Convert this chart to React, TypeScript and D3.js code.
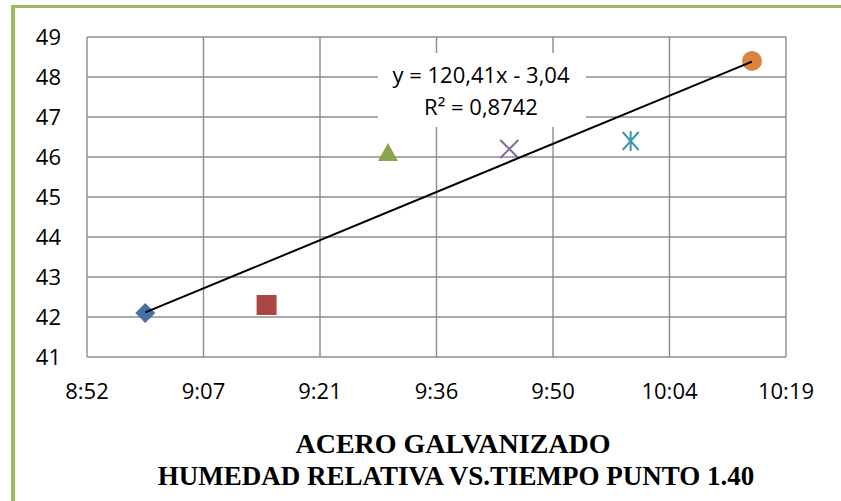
import React from 'react';
import * as d3 from 'd3';

// measurement times (hh:mm) and relative humidity (%)
const times = ['9:00', '9:15', '9:30', '9:45', '10:00', '10:15'];
const humidity = [42.1, 42.3, 46.1, 46.2, 46.4, 48.4];
const markerShapes = ['diamond', 'square', 'triangle', 'cross', 'asterisk', 'circle'];
const markerColors = ['#4572A7', '#AA4643', '#89A54E', '#80699B', '#3D96AE', '#DB843D'];

// x axis is expressed as fraction of a day (Excel time)
const xTickValues = [0.37, 0.38, 0.39, 0.4, 0.41, 0.42, 0.43];
const xTickLabels = ['8:52', '9:07', '9:21', '9:36', '9:50', '10:04', '10:19'];
const yTickValues = [41, 42, 43, 44, 45, 46, 47, 48, 49];

const trendLabel = ['y = 120,41x - 3,04', 'R² = 0,8742'];
const titleLines = ['ACERO GALVANIZADO', 'HUMEDAD RELATIVA VS.TIEMPO PUNTO 1.40'];

const W = 841;
const H = 501;
const plot = { left: 87, right: 786, top: 37, bottom: 357 };
const font = '"Open Sans", "Noto Sans", sans-serif';
const serif = '"Liberation Serif", "Times New Roman", serif';
const gridColor = '#8c8c8c';

const toDay = (t: string) => {
  const [h, m] = t.split(':').map(Number);
  return (h * 60 + m) / 1440;
};

const Marker: React.FC<{ shape: string; x: number; y: number; color: string }> = ({ shape, x, y, color }) => {
  const s = 10;
  switch (shape) {
    case 'diamond':
      return <path d={`M${x},${y - s} L${x + s},${y} L${x},${y + s} L${x - s},${y} Z`} fill={color} />;
    case 'square':
      return <rect x={x - s} y={y - s} width={2 * s} height={2 * s} fill={color} />;
    case 'triangle':
      return <path d={`M${x},${y - s} L${x + s},${y + s * 0.8} L${x - s},${y + s * 0.8} Z`} fill={color} />;
    case 'cross':
      return (
        <path
          d={`M${x - 9},${y - 9} L${x + 9},${y + 9} M${x - 9},${y + 9} L${x + 9},${y - 9}`}
          stroke={color}
          strokeWidth={2}
        />
      );
    case 'asterisk':
      return (
        <path
          d={`M${x - 8},${y - 9} L${x + 8},${y + 9} M${x - 8},${y + 9} L${x + 8},${y - 9} M${x},${y - 10} L${x},${y + 10}`}
          stroke={color}
          strokeWidth={2}
        />
      );
    default:
      return <circle cx={x} cy={y} r={s} fill={color} />;
  }
};

export default function App() {
  const xs = times.map(toDay);

  const xScale = d3.scaleLinear().domain([0.37, 0.43]).range([plot.left, plot.right]);
  const yScale = d3.scaleLinear().domain([41, 49]).range([plot.bottom, plot.top]);

  // least squares trend line
  const mx = d3.mean(xs) ?? 0;
  const my = d3.mean(humidity) ?? 0;
  const slope =
    d3.sum(xs, (x, i) => (x - mx) * (humidity[i] - my)) / d3.sum(xs, (x) => (x - mx) * (x - mx));
  const intercept = my - slope * mx;
  const x0 = xs[0];
  const x1 = xs[xs.length - 1];
  const trendPath = d3.line<number>()
    .x((x) => xScale(x))
    .y((x) => yScale(slope * x + intercept))([x0, x1]) ?? '';

  // label box for the equation
  const labelBox = { x: 378, y: 53, w: 208, h: 74 };
  const labelCx = 481;

  return (
    <svg width={W} height={H} style={{ position: 'absolute', left: 0, top: 0, background: '#fff' }}>
      {/* green frame */}
      <rect x={11} y={5} width={W - 11} height={3} fill="#9BBB59" />
      <rect x={11} y={5} width={4} height={H - 5} fill="#9BBB59" />

      {/* grid */}
      {yTickValues.map((v) => (
        <line key={`gy-${v}`} x1={plot.left} x2={plot.right} y1={yScale(v)} y2={yScale(v)} stroke={gridColor} strokeWidth={1.4} />
      ))}
      {xTickValues.map((v) => (
        <line key={`gx-${v}`} x1={xScale(v)} x2={xScale(v)} y1={plot.top} y2={plot.bottom} stroke={gridColor} strokeWidth={1.4} />
      ))}

      {/* y labels */}
      {yTickValues.map((v) => (
        <text key={`ly-${v}`} x={61} y={yScale(v) + 8} textAnchor="end" fontFamily={font} fontSize={22} fill="#000">
          {v}
        </text>
      ))}
      {/* x labels */}
      {xTickValues.map((v, i) => (
        <text key={`lx-${v}`} x={xScale(v)} y={399} textAnchor="middle" fontFamily={font} fontSize={22} fill="#000">
          {xTickLabels[i]}
        </text>
      ))}

      {/* trend label */}
      <rect x={labelBox.x} y={labelBox.y} width={labelBox.w} height={labelBox.h} fill="#fff" />
      {trendLabel.map((t, i) => (
        <text key={t} x={labelCx} y={83 + i * 32} textAnchor="middle" fontFamily={font} fontSize={22} fill="#000">
          {t}
        </text>
      ))}

      {/* markers */}
      {xs.map((x, i) => (
        <Marker key={times[i]} shape={markerShapes[i]} x={xScale(x)} y={yScale(humidity[i])} color={markerColors[i]} />
      ))}

      {/* trend line */}
      <path d={trendPath} fill="none" stroke="#000" strokeWidth={2} />

      {/* title */}
      <text x={453} y={453} textAnchor="middle" fontFamily={serif} fontWeight="bold" fontSize={28} fill="#000">
        {titleLines[0]}
      </text>
      <text x={456} y={485} textAnchor="middle" fontFamily={serif} fontWeight="bold" fontSize={27} fill="#000">
        {titleLines[1]}
      </text>
    </svg>
  );
}
